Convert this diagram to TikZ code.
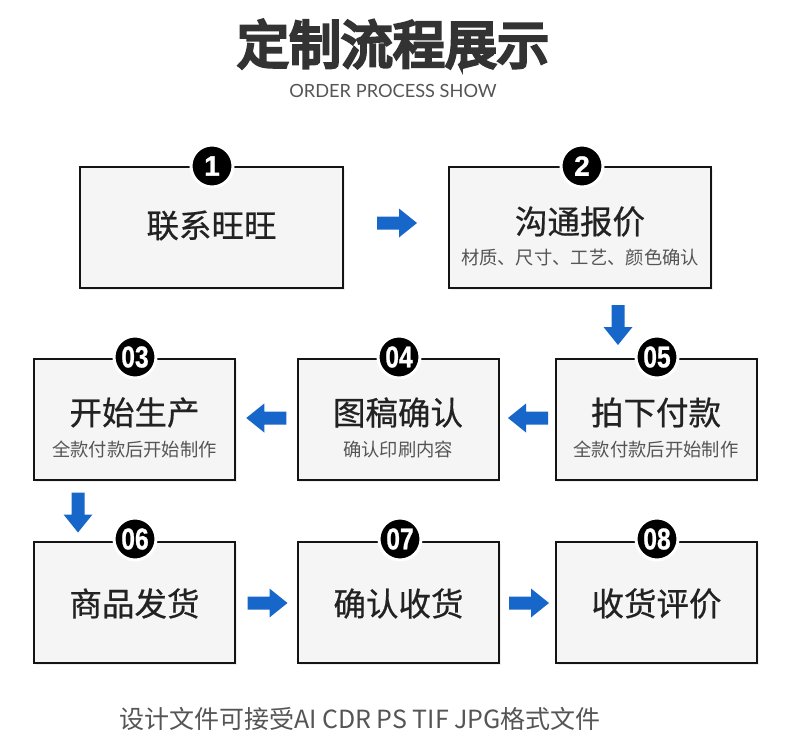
\documentclass[tikz,border=0pt]{standalone}
\usepackage{fontspec}
\setmainfont{Noto Sans CJK SC}
\newfontfamily\cjk{Noto Sans CJK SC}
\newfontfamily\cjkm{Noto Sans CJK SC}[FakeBold=0.6]
\newfontfamily\cjkt{Noto Sans CJK SC}[FakeBold=6]
\newfontfamily\lat{Lato}
\newfontfamily\numf{Liberation Sans}[FakeBold=1]
\usetikzlibrary{shadows,calc}
\definecolor{arrowblue}{HTML}{1766C9}
\definecolor{boxfill}{HTML}{F5F5F5}
\definecolor{titlegray}{HTML}{333333}
\definecolor{subgray}{HTML}{555555}
\definecolor{maingray}{HTML}{222222}
\tikzset{
  box/.style={draw=black!92, line width=2pt, fill=boxfill, inner sep=0pt,
    drop shadow={shadow xshift=1.5pt, shadow yshift=-1.5pt, opacity=0.12}},
  mainbox/.style={box, minimum width=201pt, minimum height=121pt},
  maintxt/.style={font=\cjkm\fontsize{32.5}{32.5}\selectfont, text=maingray, inner sep=0pt},
  subtxt/.style={font=\cjk\fontsize{18.3}{18.3}\selectfont, text=subgray, inner sep=0pt},
  numc/.style={circle, fill=black, draw=white, line width=3pt, minimum size=42pt, inner sep=0pt,
    text=white, font=\numf\bfseries\fontsize{30}{30}\selectfont},
  barrow/.pic={\fill[arrowblue] (-20,-6.5) -- (2,-6.5) -- (2,-14.5) -- (20,0) -- (2,14.5) -- (2,6.5) -- (-20,6.5) -- cycle;}
}
\newcommand{\twodig}[1]{\scalebox{0.82}[1]{#1}}
\begin{document}
\begin{tikzpicture}[x=1pt,y=-1pt]
\useasboundingbox[fill=white] (0,0) rectangle (790,752);
% title
\node[font=\cjkt\fontsize{52}{52}\selectfont, text=titlegray, inner sep=0pt] (title) at (393,44) {定制流程展示};
\node[font=\lat\fontsize{18.2}{18.2}\selectfont, text=subgray, inner sep=0pt] (subtitle) at (393,91) {ORDER PROCESS SHOW};
% boxes
\node[box, minimum width=263pt, minimum height=121pt] (b1) at (211.5,227.5) {};
\node[box, minimum width=262pt, minimum height=121pt] (b2) at (580,227.5) {};
\node[mainbox] (b3) at (134.5,419.5) {};
\node[mainbox] (b4) at (398,419.5) {};
\node[mainbox] (b5) at (656,419.5) {};
\node[mainbox] (b6) at (134.5,602.5) {};
\node[mainbox] (b7) at (398.5,602.5) {};
\node[mainbox] (b8) at (656.5,602.5) {};
% texts
\node[maintxt] (t1) at ($(b1.center)+(0,-2)$) {联系旺旺};
\node[maintxt] (t2) at ($(b2.center)+(0,-6)$) {沟通报价};
\node[subtxt] (s2) at ($(b2.center)+(0,30.5)$) {材质、尺寸、工艺、颜色确认};
\node[maintxt] (t3) at ($(b3.center)+(0,-7)$) {开始生产};
\node[subtxt] (s3) at ($(b3.center)+(0,30)$) {全款付款后开始制作};
\node[maintxt] (t4) at ($(b4.center)+(0,-7)$) {图稿确认};
\node[subtxt] (s4) at ($(b4.center)+(0,30)$) {确认印刷内容};
\node[maintxt] (t5) at ($(b5.center)+(0,-7)$) {拍下付款};
\node[subtxt] (s5) at ($(b5.center)+(0,30)$) {全款付款后开始制作};
\node[maintxt] (t6) at ($(b6.center)+(0,1)$) {商品发货};
\node[maintxt] (t7) at ($(b7.center)+(0,1)$) {确认收货};
\node[maintxt] (t8) at ($(b8.center)+(0,1)$) {收货评价};
% number badges
\node[numc, font=\numf\bfseries\fontsize{28}{28}\selectfont] (n1) at ($(b1.north)+(0.5,0)$) {1};
\node[numc, font=\numf\bfseries\fontsize{28}{28}\selectfont] (n2) at ($(b2.north)+(2,0)$) {2};
\node[numc] (n3) at ($(b3.north)+(0.5,-1)$) {\twodig{03}};
\node[numc] (n4) at ($(b4.north)+(1,-1)$) {\twodig{04}};
\node[numc] (n5) at ($(b5.north)+(1,-1)$) {\twodig{05}};
\node[numc] (n6) at ($(b6.north)+(0.5,-2)$) {\twodig{06}};
\node[numc] (n7) at ($(b7.north)+(1.5,-2)$) {\twodig{07}};
\node[numc] (n8) at ($(b8.north)+(0.5,-2)$) {\twodig{08}};
% arrows
\pic at ($(b1.east)!0.5!(b2.west)+(1,-4.5)$) {barrow};
\pic[rotate=-90] at ($(b2.south)!0.5!(b5.north)+(0,1.5)$) {barrow};
\pic[rotate=180] at ($(b5.west)!0.5!(b4.east)+(1,-1.5)$) {barrow};
\pic[rotate=180] at ($(b4.west)!0.5!(b3.east)+(0,-1.5)$) {barrow};
\pic[rotate=-90] at ($(b3.south west)!0.5!(b6.north west)+(45,1.5)$) {barrow};
\pic at ($(b6.east)!0.5!(b7.west)+(1,0.5)$) {barrow};
\pic at ($(b7.east)!0.5!(b8.west)+(1.5,0.5)$) {barrow};
% footer
\node[font=\cjk\fontsize{25}{25}\selectfont, text=subgray, inner sep=0pt] (footer) at (360,719) {设计文件可接受AI CDR PS TIF JPG格式文件};
\end{tikzpicture}
\end{document}
